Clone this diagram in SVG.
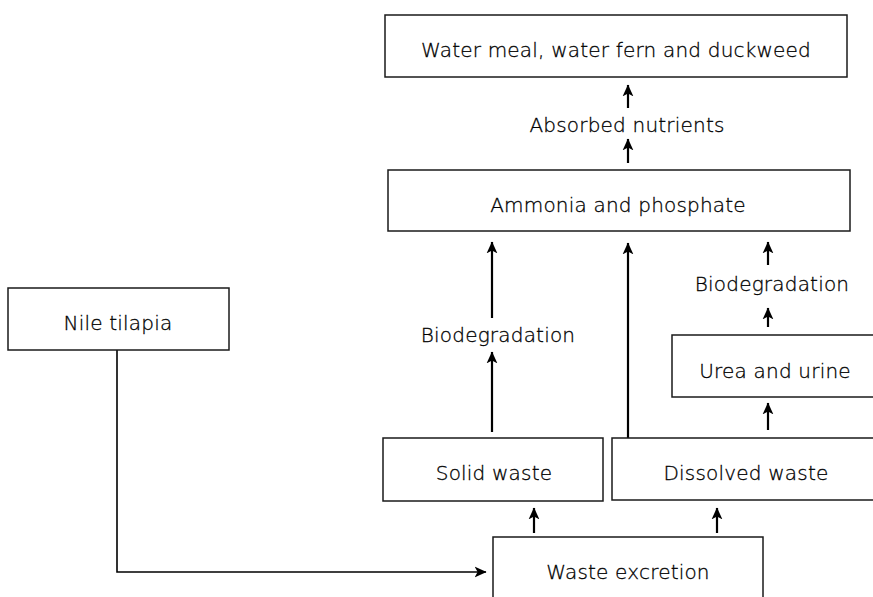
<svg xmlns="http://www.w3.org/2000/svg" width="873" height="597" viewBox="0 0 873 597">
<style>
.box{fill:#fff;stroke:#1a1a1a;stroke-width:1.5}
.lbl{font-family:"DejaVu Sans","Liberation Sans",Arial,sans-serif;font-size:20px;font-weight:200;letter-spacing:0.2px;fill:#000;stroke:#000;stroke-width:0.3;text-anchor:middle}
.con{stroke:#000;stroke-width:2.2;fill:none}
.thin{stroke:#000;stroke-width:1.6;fill:none}
</style>
<defs>
<marker id="ah" viewBox="0 0 10 10" refX="9.5" refY="5" markerWidth="12" markerHeight="12" markerUnits="userSpaceOnUse" orient="auto">
<path d="M0,0.5 L10,5 L0,9.5 L2.5,5 z" fill="#000"/>
</marker>
</defs>
<rect width="873" height="597" fill="#fff"/>
<g id="connectors">
<path class="con" d="M628,108 L628,85" marker-end="url(#ah)"/>
<path class="con" d="M628,163 L628,139" marker-end="url(#ah)"/>
<path class="con" d="M492,318 L492,242" marker-end="url(#ah)"/>
<path class="con" d="M492,432 L492,352" marker-end="url(#ah)"/>
<path class="con" d="M628,438 L628,243" marker-end="url(#ah)"/>
<path class="con" d="M768,265 L768,242" marker-end="url(#ah)"/>
<path class="con" d="M768,327 L768,308" marker-end="url(#ah)"/>
<path class="con" d="M768,430 L768,403" marker-end="url(#ah)"/>
<path class="con" d="M534,533 L534,508" marker-end="url(#ah)"/>
<path class="con" d="M717,533 L717,508" marker-end="url(#ah)"/>
<path class="thin" d="M117,350 L117,572 L486,572" marker-end="url(#ah)"/>
<text class="lbl" x="627" y="132">Absorbed nutrients</text>
<text class="lbl" x="498" y="342">Biodegradation</text>
<text class="lbl" x="772" y="291">Biodegradation</text>
</g>
<g id="n-plants">
<rect class="box" x="385" y="15" width="462" height="62"/>
<text class="lbl" x="616" y="57">Water meal, water fern and duckweed</text>
</g>
<g id="n-ammonia">
<rect class="box" x="388" y="170" width="462" height="61"/>
<text class="lbl" x="618" y="212">Ammonia and phosphate</text>
</g>
<g id="n-urea">
<rect class="box" x="672" y="335" width="210" height="62"/>
<text class="lbl" x="775" y="378">Urea and urine</text>
</g>
<g id="n-tilapia">
<rect class="box" x="8" y="288" width="221" height="62"/>
<text class="lbl" x="118" y="330">Nile tilapia</text>
</g>
<g id="n-solid">
<rect class="box" x="383" y="438" width="220" height="63"/>
<text class="lbl" x="494" y="480">Solid waste</text>
</g>
<g id="n-dissolved">
<rect class="box" x="612" y="438" width="270" height="62"/>
<text class="lbl" x="746" y="480">Dissolved waste</text>
</g>
<g id="n-excretion">
<rect class="box" x="493" y="537" width="270" height="70"/>
<text class="lbl" x="628" y="579">Waste excretion</text>
</g>
</svg>
